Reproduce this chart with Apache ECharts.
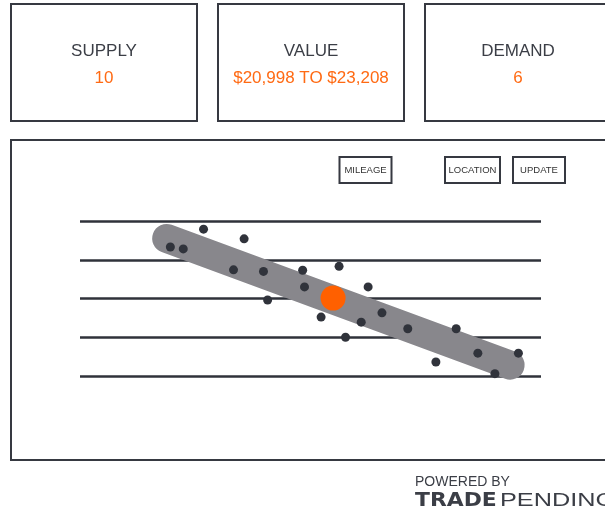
<!DOCTYPE html>
<html>
<head>
<meta charset="utf-8">
<script src="https://cdn.jsdelivr.net/npm/echarts@6/dist/echarts.min.js"></script>
<style>
  html, body { margin: 0; padding: 0; background: #fff; }
  #chart { width: 605px; height: 514px; }
</style>
</head>
<body>
<div id="chart"></div>
<script>
// stat cards
const cardTitles = ['SUPPLY', 'VALUE', 'DEMAND']
const cardValues = ['10', '$20,998 TO $23,208', '6']
const buttons = ['MILEAGE', 'LOCATION', 'UPDATE']

// comparable vehicles (x = mileage-ish, y = price band)
const dotX = [19.6, 22.4, 26.8, 35.6, 33.3, 39.8, 48.3, 56.2, 48.7, 62.5, 40.7,
  52.3, 61.0, 65.5, 71.1, 81.6, 57.6, 77.2, 86.3, 95.1, 90.0]
const dotY = [3.33, 3.28, 3.79, 3.54, 2.74, 2.70, 2.73, 2.83, 2.30, 2.30, 1.96,
  1.52, 1.39, 1.63, 1.22, 1.22, 1.00, 0.36, 0.59, 0.59, 0.06]
// this vehicle
const markX = [54.9]
const markY = [2.01]
// trend band ends
const trendX = [18.8, 93.3]
const trendY = [3.55, 0.28]

const dark = '#363941'
const orange = '#ff6a13'

const chart = echarts.init(document.getElementById('chart'))

let graphics = []
const cardLeft = [11, 218, 425]
cardTitles.forEach((t, i) => {
  graphics.push({
    type: 'rect', z: 0,
    shape: { x: cardLeft[i], y: 4, width: 186, height: 117 },
    style: { fill: null, stroke: dark, lineWidth: 2 }
  })
  graphics.push({
    type: 'text', x: cardLeft[i] + 93, y: 51,
    style: { text: t, font: '17px "Liberation Sans"', fill: '#3b3e46', textAlign: 'center', textVerticalAlign: 'middle' }
  })
  graphics.push({
    type: 'text', x: cardLeft[i] + 93, y: 78,
    style: { text: cardValues[i], font: '17px "Liberation Sans"', fill: orange, textAlign: 'center', textVerticalAlign: 'middle' }
  })
})

// main panel
graphics.push({
  type: 'rect', z: 0,
  shape: { x: 11, y: 140, width: 610, height: 320 },
  style: { fill: null, stroke: dark, lineWidth: 2 }
})

const btnBox = [[339.5, 52], [445, 55], [513, 52]]
buttons.forEach((b, i) => {
  graphics.push({
    type: 'rect',
    shape: { x: btnBox[i][0], y: 157, width: btnBox[i][1], height: 26 },
    style: { fill: '#fff', stroke: dark, lineWidth: 2 }
  })
  graphics.push({
    type: 'text', x: btnBox[i][0] + btnBox[i][1] / 2, y: 170.5,
    style: { text: b, font: '9.5px "Liberation Sans"', fill: '#333', textAlign: 'center', textVerticalAlign: 'middle' }
  })
})

// footer
graphics.push({
  type: 'text', x: 415, y: 482,
  style: { text: 'POWERED BY', font: '14px "Liberation Sans"', fill: '#3b3e46', textVerticalAlign: 'middle' }
})
graphics.push({
  type: 'text', x: 415, y: 501, scaleX: 1.15,
  style: { text: 'TRADE', font: 'bold 19px "DejaVu Sans"', fill: '#3b3e46', textVerticalAlign: 'middle' }
})
graphics.push({
  type: 'text', x: 500, y: 501, scaleX: 1.33,
  style: { text: 'PENDING', font: '19px "Liberation Sans"', fill: '#3b3e46', textVerticalAlign: 'middle' }
})

const option = {
  animation: false,
  grid: { left: 80, right: 64, top: 221, bottom: 138 },
  xAxis: {
    type: 'value', min: 0, max: 100, show: false
  },
  yAxis: {
    type: 'value', min: 0, max: 4, interval: 1,
    axisLabel: { show: false },
    axisLine: { show: false },
    axisTick: { show: false },
    splitLine: { show: true, lineStyle: { color: '#2f323a', width: 2.5 } }
  },
  graphic: graphics,
  series: [
    {
      type: 'line',
      data: trendX.map((x, i) => [x, trendY[i]]),
      symbol: 'none',
      lineStyle: { color: '#88878c', width: 29, cap: 'round' },
      z: 2
    },
    {
      type: 'scatter',
      data: dotX.map((x, i) => [x, dotY[i]]),
      symbolSize: 9,
      itemStyle: { color: '#30333b', opacity: 1 },
      z: 3
    },
    {
      type: 'scatter',
      data: markX.map((x, i) => [x, markY[i]]),
      symbolSize: 25,
      itemStyle: { color: '#ff6000', opacity: 1 },
      z: 4
    }
  ]
}
chart.setOption(option)
</script>
</body>
</html>
